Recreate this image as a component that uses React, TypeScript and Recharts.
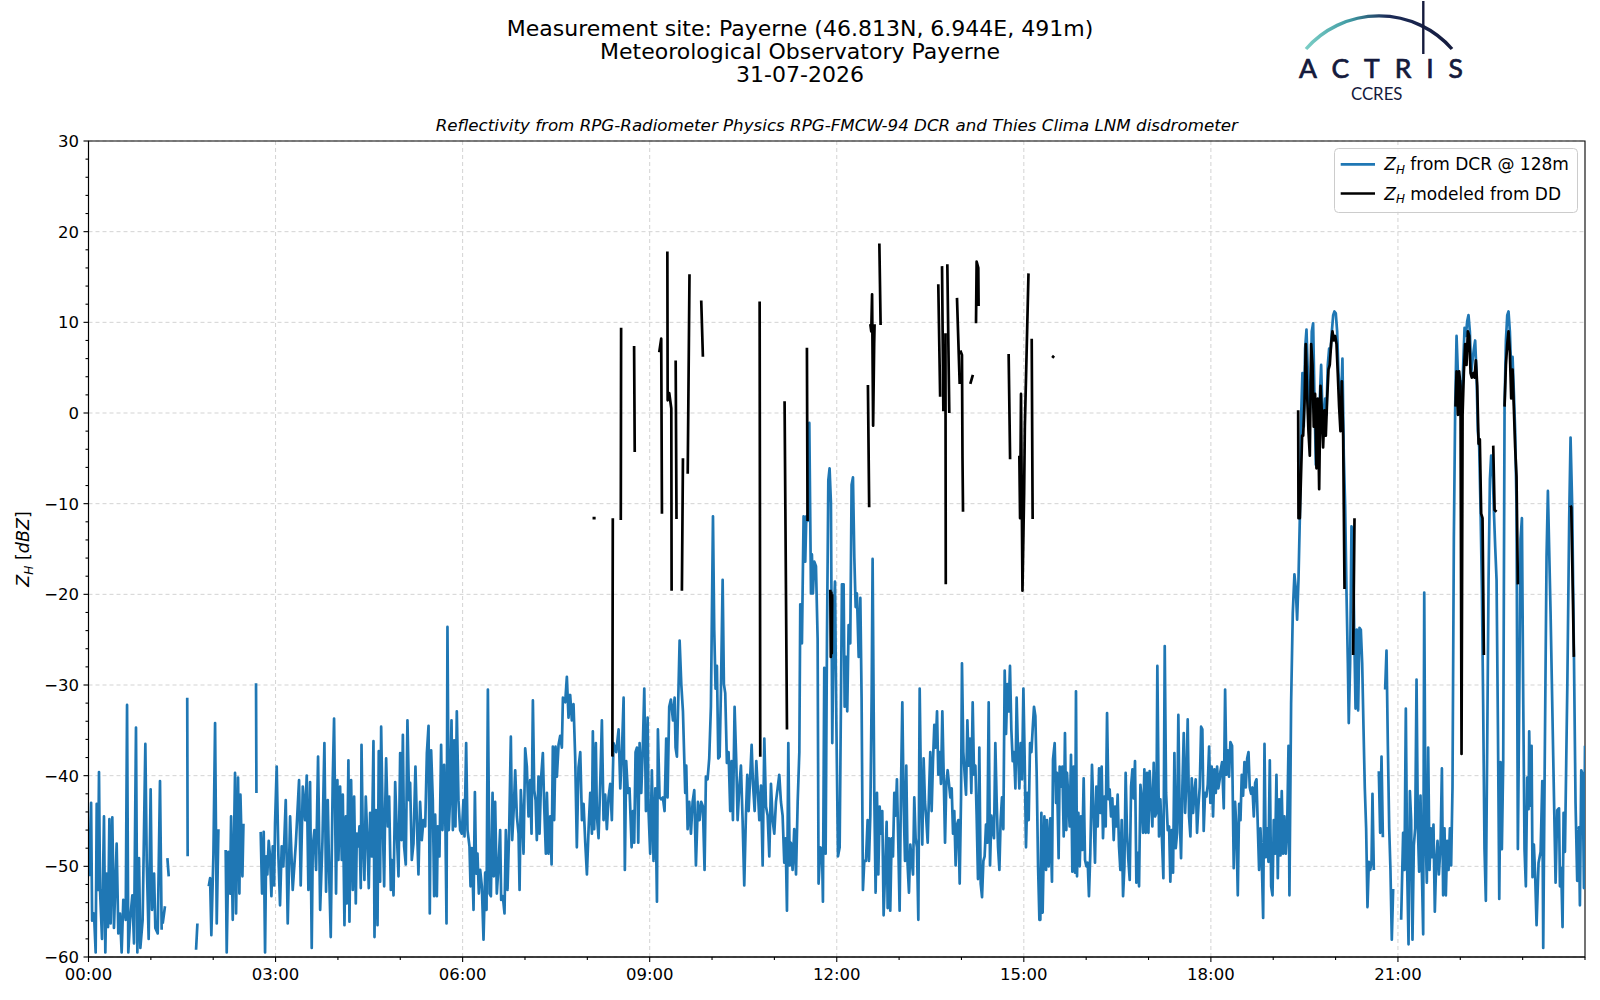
import { LineChart, Line, XAxis, YAxis, CartesianGrid, ReferenceArea } from 'recharts';

type Pt = [number, number | null];

// time in minutes after 00:00, Z_H in dBZ, null = gap in the record
const dcrNight: Pt[] = [
  [0.5, -51.1], [2.5, -43], [3.5, -56], [5.3, -55.2], [6.9, -59.5], [7.9, -43.1], [9.1, -52.6], [10.1, -39.6],
  [11.1, -52.6], [13, -58], [14.9, -44.5], [16.2, -59.5], [17.5, -50.8], [18.8, -56.7], [20.1, -44.8], [21.3, -56.3],
  [22.9, -44.6], [24.5, -56.8], [27.1, -47.5], [28.7, -57.4], [30.3, -55.2], [31.9, -59.5], [33.5, -53.7], [35.8, -55.9],
  [37.1, -32.2], [38.3, -59.5], [40, -55.9], [42.2, -53.2], [43.8, -58.5], [45.7, -34.7], [47, -59.5], [48.6, -49.1],
  [49.9, -59], [52.1, -55.9], [54.7, -36.5], [56, -49.3], [57.9, -58], [59.8, -41.5], [61.1, -54.8], [63.1, -50.8],
  [64.3, -56.8], [66.6, -57.4], [68.8, -40.6], [70.4, -57], [70.9, null], [71.4, -56.3], [73.6, -54.4], [74.8, null],
  [75.9, -49.1], [77.2, -51.1], [86, null], [95, -31.4], [95.4, -48.9], [100, null], [103.5, -59.2], [104.8, -56.3],
  [110, null], [115.7, -52.2], [117, -51.3], [118.2, -57.6], [120.2, -48.7], [121.8, -34.2], [123.4, -56.3], [125, -45.9],
  [128, null], [132, -48.2], [133, -59.5], [134.6, -48.4], [136.2, -53], [137.2, -44.5], [138.8, -55.9], [141, -39.7],
  [142, -55.2], [143.9, -40.2], [145.2, -53], [146.2, -42.1], [148.1, -51.1], [149.1, -45.3], [155, null], [161.2, -29.8],
  [161.6, -41.9], [163, null], [165.7, -46.2], [167, -53], [168.6, -46.2], [169.9, -59.5], [170.9, -48.9], [172.1, -50.9],
  [173.4, -47.2], [174.7, -48.9], [176, -53.3], [177.3, -47.8], [178.6, -52.1], [179.5, -45.3], [181.1, -39], [182.7, -48.7],
  [184.3, -54.3], [185.9, -47.8], [187.5, -50], [189.8, -42.7], [191.7, -56.3], [194, -44.5], [196.5, -52.6], [199.5, -47.5],
  [202.6, -40.5], [204.2, -52.1], [206.2, -41.2], [208.4, -44.9], [210, -40], [211.6, -52.6], [213.2, -40.7], [214.8, -59],
  [215.8, -47.8], [217.4, -46], [219, -50.4], [220.9, -37.9], [222.9, -54.8], [225.1, -47.3], [227, -36.4], [228.6, -52.8],
  [230.2, -42.7], [231.8, -51.9], [233.1, -57.8], [235, -40.5], [236.3, -33.7], [238.2, -53], [239.5, -40.5], [240.5, -49.3],
];

const dcrDawn: Pt[] = [
  [242.1, -41.2], [243.7, -49.3], [244.7, -42.1], [246.3, -56.5], [247.6, -44.5], [248.5, -54.1], [250.1, -38.3], [251.1, -56.1],
  [252.7, -40.5], [254.3, -52.6], [255.6, -42.3], [257.2, -54.1], [258.2, -46.4], [259.8, -47.8], [260.7, -45.6], [262, -52.4],
  [262.7, -36.6], [263.9, -46.4], [265.5, -51.5], [266.8, -42.3], [268.4, -47.3], [269.7, -52.4], [271, -44.1], [272.6, -48.9],
  [274.2, -36.2], [275.2, -57.8], [276.5, -43.8], [278.1, -56.5], [279.3, -37.3], [280.6, -51.7], [281.6, -34.6], [282.9, -43.8],
  [284.5, -52.2], [285.4, -44.1], [286.4, -38.1], [288, -45.6], [289.3, -42.3], [290.9, -52.6], [291.9, -49.3], [293.5, -53.2],
  [295.1, -40.7], [296.7, -46.4], [298.3, -51.1], [299.9, -37.5], [301.2, -47.1], [302.5, -35.5], [303.7, -47.8], [305.3, -49.8],
  [306.9, -33.9], [308.5, -42.7], [309.5, -40.8], [311.1, -49.3], [312.7, -47.5], [314.6, -39], [316.2, -46], [317.5, -50.9],
  [319.1, -42.9], [320.7, -47.1], [322.3, -44.9], [324, -45.6], [325.6, -37.5], [327.2, -34.5], [328.4, -55.2], [329.7, -37.2],
  [331.3, -42.7], [332.6, -53.3], [333.6, -44.3], [335.2, -53.3], [336.1, -45.6], [337.7, -48.9], [339.3, -36.6], [340.6, -46],
  [342.2, -38.8], [343.5, -46], [344.5, -56.3], [345.4, -23.6], [346.7, -46], [348, -42.3], [349.3, -33.9], [350.6, -46],
  [351.9, -36.1], [353.1, -45.6], [354.4, -32.9], [356, -42.7], [357.6, -46], [359.2, -46.4], [360.8, -42.7], [361.8, -46.7],
  [363.4, -36.4], [364.7, -46], [366.6, -47.8], [367.6, -52.2], [368.9, -48], [370.5, -54.8], [371.8, -41.8], [373, -50.8],
  [374.3, -48.6], [375.6, -53], [376.9, -50.4], [378.5, -52.2], [380.1, -58.1], [381.7, -50.7], [383, -54.8], [384.3, -30.5],
  [385.9, -53], [387.2, -53.3], [388.8, -41.9], [390, -51.1], [391.3, -42.9], [392.9, -53], [394.5, -50], [396.1, -46],
  [397.1, -53.7], [398.7, -53.3], [400.3, -55.2], [401.6, -46], [403.2, -52.6], [404.8, -46], [406.4, -35.7], [407.7, -47.1],
  [409.3, -43.4], [410.6, -39.4], [412.2, -44.5], [413.8, -46.4], [414.8, -52.6], [416, -41.6], [417.3, -44.5], [418.6, -48.6],
  [420.2, -37], [421.8, -39], [423.4, -44.5], [425, -40.5], [426.3, -46.4], [427.6, -31.7], [428.9, -41.6], [430.2, -42.7],
  [431.4, -47.1], [433, -40.1], [434, -46.4], [435.6, -40.1], [437.2, -37.5], [438.5, -43.4], [440.1, -48.6], [441.1, -41.9],
  [442.7, -48.6], [444.3, -44.5], [445.6, -49.8], [446.8, -36.8], [448.1, -44.9], [449.4, -36.8], [450.7, -40.1], [452.3, -36.6],
];

const dcrMorning: Pt[] = [
  [453.9, -35.6], [455.5, -36.9], [456.5, -31.4], [458.7, -31.9], [460.3, -29.1], [461.9, -33.6], [463.5, -31.1], [465.1, -33.9],
  [466.7, -32.1], [468.3, -37.9], [469.9, -47.9], [471.5, -39.1], [473.2, -37.4], [474.8, -44.9], [476.4, -43.1], [478, -47.4],
  [479.6, -50.9], [481.2, -45.9], [482.8, -41.9], [484.4, -46.4], [485.3, -35.1], [486.6, -45.9], [488.2, -36.4], [489.2, -44.4],
  [490.8, -46.9], [492.4, -40.9], [494, -33.9], [495.6, -44.9], [497.2, -42.1], [498.8, -45.9], [500.4, -42.4], [502, -40.9],
  [503.6, -44.9], [505.2, -36.4], [507.8, -37.4], [510.1, -34.9], [511.7, -41.4], [513.3, -37.4], [514.9, -31.4], [516.1, -50.4],
  [517.4, -38.4], [519, -41.9], [520.6, -41.4], [522.6, -47.9], [523.9, -43.9], [525.1, -47.4], [526.4, -37.4], [527.7, -36.9],
  [529, -47.4], [530.3, -36.4], [531.9, -41.9], [533.5, -36.4], [534.8, -30.4], [536.4, -43.9], [538, -33.6], [538.9, -43.9],
  [540.5, -48.6], [542.1, -39.4], [543.7, -49.4], [545.4, -41.4], [547, -53.9], [547.9, -34.9], [549.5, -42.4], [551.1, -42.6],
  [552.7, -42.4], [554.3, -43.9], [555.9, -35.9], [557.2, -42.4], [558.8, -32.4], [560.4, -31.6], [562.4, -33.9], [564, -31.4],
  [564.9, -36.9], [566.2, -37.9], [568.8, -25.1], [570.4, -29.9], [572, -32.9], [574.2, -41.9], [575.2, -38.9], [576.5, -45.9],
  [578.1, -42.9], [579.7, -46.4], [581.3, -42.9], [582.9, -41.6], [584.5, -49.9], [586.4, -42.9], [588, -44.9], [589.6, -42.9],
  [591.2, -43.4], [592.8, -50.4], [594.1, -40.1], [595.7, -40.4], [597.3, -38.1], [598.9, -32.4], [600.9, -11.4], [602.1, -23.9],
  [603.4, -30.4], [604.7, -27.9], [606, -38.1], [607.3, -37.9], [608.6, -30.4], [610.2, -18.4], [611.4, -29.9], [612.7, -30.9],
  [614.3, -38.6], [615.9, -37.4], [617.5, -43.9], [618.8, -38.4], [620.1, -44.9], [621.7, -32.4], [623.3, -38.4], [624.6, -44.9],
  [626.2, -41.4], [627.8, -38.9], [629.4, -44.9], [631, -52.1], [632.6, -44.4], [633.9, -39.9], [635.2, -43.9], [636.8, -39.9],
  [638.1, -36.6], [639.4, -40.9], [641, -43.9], [642.6, -38.4], [644.2, -41.9], [645.5, -44.9], [647.1, -41.1], [648.7, -49.9],
  [650.3, -35.9], [651.9, -43.4], [653.5, -44.4], [655.1, -48.9], [656.7, -40.9], [658.3, -44.9], [659.9, -46.4], [661.5, -42.9],
  [663.1, -41.4], [664.7, -39.9], [666.3, -42.9], [667.9, -44.4], [669.5, -49.6], [670.8, -46.9], [672.1, -54.9], [673.4, -36.4],
  [674.7, -49.9], [675.9, -47.4], [677.5, -50.4], [679.1, -45.9], [680.8, -50.9], [682.4, -42.9], [684, -37.4],
];

const dcrMidday: Pt[] = [
  [684.9, -21.1], [686.5, -25.4], [688.1, -11.4], [689.7, -16.4], [690.7, -11.4], [692, -11.9], [693.6, -1.1], [695.2, -19.9],
  [696.1, -15.6], [697.1, -19.9], [698.4, -16.4], [700, -16.9], [701.6, -24.9], [702.5, -51.9], [704.2, -47.9], [705.8, -48.1],
  [706.7, -53.9], [708, -28.1], [709.3, -48.6], [710.6, -24.9], [711.9, -7.4], [713.1, -6.1], [714.4, -9.9], [715.7, -36.4],
  [717, -22.9], [718.3, -18.6], [719.6, -33.9], [721.2, -48.9], [722.8, -47.9], [724, -32.4], [725, -18.9], [726.6, -18.9],
  [727.6, -32.4], [728.9, -26.9], [730.1, -32.9], [731.4, -23.4], [733, -25.4], [734.3, -7.9], [735.6, -7.1], [736.9, -15.9],
  [738.2, -21.4], [739.4, -19.9], [741.1, -26.9], [742.7, -20.4], [743.9, -31.4], [745.2, -52.6], [746.5, -49.4], [748.1, -49.4],
  [749.7, -44.9], [751, -49.4], [752.3, -44.4], [753.6, -30.9], [754.5, -16.1], [756.1, -41.9], [757.4, -52.9], [758.7, -41.9],
  [760, -50.9], [761.3, -43.4], [762.6, -46.4], [763.8, -43.9], [765.1, -55.4], [766.7, -49.9], [768, -45.1], [769, -54.6],
  [770.2, -46.9], [771.5, -54.9], [772.8, -46.9], [774.1, -48.9], [775.4, -41.9], [776.7, -44.4], [777.9, -40.4], [779.2, -47.4],
  [780.5, -54.9], [781.8, -41.4], [783.1, -31.9], [784.4, -43.4], [785.7, -49.4], [786.9, -38.9], [788.2, -49.9], [789.5, -52.9],
  [790.8, -47.6], [792.1, -49.4], [793.4, -50.9], [794.6, -42.4], [795.9, -46.9], [797.2, -47.9], [798.5, -55.9], [799.8, -30.4],
  [801.1, -41.9], [802.3, -47.6], [803.6, -38.1], [804.9, -42.9], [806.2, -44.9], [807.5, -47.4], [808.8, -41.9], [810, -37.4],
  [811.3, -43.9], [812.6, -38.4], [813.9, -34.4], [815.2, -36.9], [816.5, -32.9], [817.7, -39.9], [819, -37.4], [820.3, -40.9],
  [821.6, -32.9], [822.9, -39.9], [824.2, -47.4], [825.4, -40.9], [826.7, -39.4], [828, -40.9], [829.3, -42.4], [830.6, -41.4],
  [831.9, -46.4], [833.1, -43.9], [834.4, -49.9], [835.7, -45.4], [837, -44.9], [838.3, -51.9], [839.6, -42.4], [840.5, -27.6],
  [841.8, -37.4], [843.1, -39.9], [844.4, -42.1], [845.7, -33.9], [846.9, -38.9], [848.2, -35.9], [849.5, -41.9], [850.8, -31.9],
  [852.1, -39.9], [853.4, -38.9], [854.6, -44.4], [855.9, -51.4], [857.2, -36.9], [858.5, -51.9], [859.8, -53.4], [861.1, -49.4],
  [862.3, -48.9], [863.6, -45.4], [864.9, -47.4], [866.2, -31.9], [867.5, -49.9], [868.8, -44.4], [870, -45.9], [871.3, -46.9],
  [872.6, -36.4], [873.9, -42.9], [875.2, -47.9], [876.5, -50.4], [877.7, -44.9], [879, -42.4], [880.3, -45.9], [881.6, -28.4],
  [882.9, -35.4], [884.2, -29.9], [885.4, -32.9], [886.7, -27.9], [888, -34.9], [889.3, -38.4], [890.6, -37.4], [891.9, -41.4],
  [893.1, -31.4], [894.4, -37.4], [895.7, -41.4], [897, -36.4], [898.3, -40.4], [899.6, -30.4], [900.8, -37.9], [902.1, -47.9],
  [903.4, -41.9], [904.7, -44.9], [906, -36.4], [907.3, -37.4], [908.5, -34.9], [909.8, -32.4], [911.1, -33.4], [912.4, -39.9],
  [913.7, -49.9], [915, -55.9],
];

const dcrAfternoon: Pt[] = [
  [915.9, -55.9], [916.9, -44.1], [918.1, -55.1], [919.8, -44.5], [921.4, -50.4], [922.3, -44.9], [923.9, -50], [925.5, -44.7],
  [927.1, -51.7], [928.1, -38.2], [929.7, -36.4], [931, -43], [931.9, -39.7], [933.5, -49.1], [934.5, -39], [935.8, -41.2],
  [937.1, -39], [938.4, -46.7], [939.6, -35.3], [940.9, -46], [941.6, -39.7], [942.9, -42.6], [944.1, -45.6], [945.4, -37.7],
  [946.7, -50.6], [948, -39], [949.3, -50.7], [950.2, -30.7], [951.2, -51.1], [952.5, -44.1], [953.8, -50], [955, -44.5],
  [956.3, -48.2], [957.6, -40.3], [958.9, -49.3], [960.2, -50], [961.5, -49.6], [962.7, -53.3], [964, -48.5], [965.6, -38.8],
  [967.2, -44.5], [968.5, -49.6], [969.8, -41.2], [971.1, -45.6], [972.4, -39.2], [973.7, -44.1], [974.9, -39], [976.2, -46.9],
  [977.5, -42.3], [978.8, -45.6], [980.1, -33.1], [981.4, -42.6], [982.6, -41.5], [983.9, -44.5], [985.2, -42.5], [986.5, -47.1],
  [987.8, -43.4], [989.1, -45.6], [990.3, -42.1], [991.6, -47.8], [992.9, -50.4], [994.2, -44.9], [995.5, -53.3], [996.8, -50],
  [998, -39.7], [999.3, -46.3], [1000.6, -49.3], [1001.9, -51.5], [1003.2, -41.2], [1004.5, -39.3], [1005.7, -42.5], [1007, -38.4],
  [1008.3, -51.8], [1009.6, -48.5], [1010.9, -52.2], [1012.2, -41], [1013.4, -42.6], [1014.7, -46.3], [1016, -39.3], [1017.3, -46.3],
  [1018.6, -39.7], [1019.9, -46.3], [1021.1, -39.5], [1022.4, -42.6], [1023.7, -45.6], [1025, -38.6], [1026.3, -44.5], [1027.6, -44.1],
  [1028.5, -27.9], [1030.1, -46.7], [1031.4, -42.6], [1032.7, -46.3], [1034.3, -51.3], [1035.6, -25.7], [1036.9, -41.9], [1038.5, -46],
  [1039.8, -45.6], [1041, -51.7], [1042.3, -46], [1043.6, -50.7], [1044.9, -37.5], [1046.2, -48], [1047.5, -46.3], [1048.7, -33.3],
  [1050, -44.5], [1051.3, -49.1], [1052.6, -41.2], [1053.9, -35.3], [1055.2, -44.1], [1056.4, -40.8], [1057.7, -33.8], [1059, -44.5],
  [1060.3, -46.7], [1061.6, -40.3], [1062.9, -44.1], [1064.1, -41.9], [1065.4, -40.4], [1066.7, -46.3], [1068, -43.4], [1069.3, -41.2],
  [1070.6, -34.6], [1071.8, -34.9], [1073.1, -46.1], [1074.4, -41.9], [1075.7, -42.3], [1077, -41], [1078.3, -36.8], [1079.5, -43],
  [1080.8, -39], [1082.1, -44.5], [1083.4, -39.3], [1084.7, -41.9], [1086, -39], [1087.2, -41.4], [1088.5, -40.4],
];

const dcrEvening: Pt[] = [
  [1089.2, -39.5], [1090.8, -38.5], [1092.4, -43.6], [1093.7, -30.5], [1095, -39.9], [1096.3, -37.2], [1097.5, -40.1], [1098.8, -36.3],
  [1100.4, -36.7], [1102, -50.2], [1103.3, -42.9], [1104.6, -45.8], [1105.9, -53.2], [1107.2, -43.1], [1108.5, -44.9], [1109.7, -39.9],
  [1111, -42.2], [1112.3, -38.5], [1113.6, -41.3], [1114.9, -38.1], [1116.2, -37.4], [1117.4, -41.3], [1118.7, -42], [1120, -41.3],
  [1121.3, -44.5], [1122.6, -40.8], [1123.9, -40.4], [1125.1, -45.4], [1126.4, -50.4], [1127.7, -45.8], [1129, -49.5], [1130.3, -55.7],
  [1131.6, -36.5], [1132.8, -49], [1134.1, -45.8], [1135.4, -49.5], [1136.7, -38.3], [1138, -52.2], [1139.3, -53.2], [1140.5, -44.9],
  [1141.8, -48.6], [1143.1, -39.9], [1144.4, -51.3], [1145.7, -42.6], [1147, -48.8], [1148.2, -41.7], [1149.5, -48.6], [1150.8, -44.5],
  [1152.1, -48.6], [1153.4, -45.8], [1154.7, -36.7], [1155.6, -53.2], [1157.2, -32.1], [1158.8, -22.1], [1160.4, -17.8], [1161.7, -19.4],
  [1163, -22.8], [1164.3, -18.4], [1165.6, -11.6], [1166.9, -0.2], [1168.1, 4.4], [1169.4, -1.5], [1170.7, 7.1], [1172, 9.2],
  [1173.3, 4.4], [1174.6, -1.5], [1175.8, 1.6], [1177.1, 9], [1178.4, 9.9], [1179.7, 1.6], [1181, -5.7], [1182.3, -0.2],
  [1183.5, -3.8], [1184.8, 1.6], [1186.1, 5.3], [1187.4, -0.2], [1188.7, -1.5], [1190, 1.6], [1191.2, -0.2], [1192.5, 5.3],
  [1193.8, 7.1], [1195.1, 6.7], [1196.4, 9], [1197.7, 10.8], [1198.9, 11.2], [1200.2, 11], [1201.5, 9], [1202.8, 4.4],
  [1204.1, 2.1], [1205.4, 1.6], [1206.6, 6], [1207.9, -4.7], [1209.2, -10.2], [1210.5, -19.8], [1211.8, -27.6], [1212.7, -34.2],
  [1214, -27.6], [1215.3, -12.5], [1216.6, -13], [1217.9, -23.9], [1219.2, -32.6], [1220.4, -23.9], [1221.7, -32.8], [1223, -23.7],
  [1224.3, -23.9], [1225.6, -27.6], [1226.9, -34.9], [1228.1, -41.3], [1229.4, -45.8], [1230.7, -54.5], [1232, -49.5], [1233.3, -50.4],
  [1234.6, -49.5], [1235.5, -42], [1236.8, -50.4], [1239, null], [1241.6, -39.5], [1242.9, -46.3], [1244.2, -37.9], [1245.5, -46.8],
  [1246.5, null], [1247.7, -30.5], [1249, -26.2], [1250.3, -36.7], [1251.6, -45.8], [1252.8, -50.4], [1254.1, -58.1], [1255.4, -52.5],
  [1260, null], [1263.1, -55.9], [1265, -46.3], [1266.3, -50.4], [1267.6, -32.6], [1268.9, -50.4], [1270.2, -58.6], [1271.5, -41.7],
  [1272.7, -44.9], [1274, -58.1], [1275.3, -47.7], [1276.6, -45.8], [1277.9, -29.4], [1279.2, -45.8], [1280.4, -50.6], [1281.7, -42.2],
  [1283, -50.4], [1284.3, -57.5], [1285.3, -19.8], [1286.5, -45.8], [1287.8, -51.8], [1289.1, -36.9], [1290.4, -50.4], [1291.7, -45.8],
  [1293, -49], [1294.2, -45.4], [1295.5, -55], [1296.8, -49.5], [1298.1, -47.2], [1299.4, -50.9], [1301, -47.7], [1302.3, -39.2],
  [1303.5, -53.2], [1304.8, -45.8], [1306.1, -53.2], [1307.4, -47.2], [1308.7, -50.4], [1310, -45.8], [1311.2, -49.9], [1312.5, -41.3],
  [1313.8, -13.9], [1315.1, 0.7], [1316.4, 8.5], [1317.7, 4.4], [1318.9, -0.2], [1320.2, 3.5], [1321.5, 0.3], [1322.8, 5.3],
  [1324.1, 9.4], [1325.4, 8.5], [1326.6, 10.1], [1327.9, 10.8], [1329.2, 9], [1330.5, 4.4], [1331.8, 5.8], [1333.1, 7.1],
  [1334.3, 8], [1335.6, 4.4], [1336.9, -2], [1338.2, -3.8], [1339.5, -10.7], [1340.8, -19.4], [1342, -32.1], [1343.3, -48.1],
  [1344.6, -53.8], [1345.9, -36.7], [1347.2, -18.4], [1348.5, -7.3], [1349.7, -4.7], [1351, -5.7], [1352.3, -10.7], [1353.6, -14.8],
  [1354.9, -18.4], [1356.2, -34.4], [1357.5, -53.6], [1358.7, -38.5], [1360, -48.1], [1361.3, -38.5], [1362.6, 0.7], [1363.9, 8],
  [1365.2, 10.8], [1366.4, 11.2], [1367.7, 9], [1369, 4.4], [1370.3, 6.2], [1371.6, 2.1], [1372.8, -2], [1374.1, -10.2],
  [1375.4, -48.1], [1376.7, -32.1], [1378, -13.9], [1379.3, -11.6], [1380.6, -32.1], [1381.8, -48.1], [1383.1, -52.2], [1384.4, -40.2],
  [1385.7, -43.7], [1386.3, -35.1], [1387.6, -43.3], [1388.6, -36.7], [1389.5, -51.2], [1390.8, -47.6], [1392.1, -51.2], [1393.4, -56.5],
  [1395.3, -49.6], [1397.3, -48.4], [1398.9, -40.6], [1399.8, -59], [1401.1, -40.6], [1403, -15.9], [1404.3, -8.6], [1406.9, -22.2],
  [1409.4, -37.8], [1411.7, -51.8], [1413.3, -43.8], [1415, -43.6], [1415.9, -52.2], [1417.1, -50.2], [1418.4, -56.7], [1419.4, -44.1],
  [1420.7, -48.4], [1423, -30], [1424.8, -11.6], [1426.1, -2.7], [1427.7, -10.4], [1429.3, -26.1], [1430.9, -43], [1432.5, -51.6],
  [1434.1, -45.7], [1435.1, -54.3], [1436.4, -39.4], [1437.7, -39.8], [1439, -52.4], [1440, -36.7],
];

// Z_H modeled from the disdrometer drop size distribution
const ddModel: Pt[] = [
  [485, -11.6], [488, -11.6], [488.5, null], [504.1, -37.9], [504.5, -11.6], [508, null], [512.2, -11.8], [512.5, 9.4],
  [518, null], [525, 7.4], [525.6, -4.3], [535, null], [549.2, 6.7], [551.1, 8.2], [551.8, -11.1], [554, null],
  [557, 17.8], [557.3, 1.4], [558.8, 2.2], [560.8, 0.5], [561.1, -19.6], [563, null], [565, 5.8], [565.8, -11.7],
  [568, null], [571, -19.6], [572, -5], [574, null], [576.6, -6.7], [578.3, 15.3], [584, null], [589.6, 12.4],
  [591.2, 6.2], [600, null], [645.8, 12.3], [646.4, -37.9], [655, null], [669.8, 1.3], [672.1, -34.9], [680, null],
  [691.3, 7.2], [691.9, -11.9], [700, null], [713.8, -19.5], [714.3, -26.9], [714.8, -19.8], [715.2, -26.5], [715.6, -20],
  [730, null], [750, 3.1], [751.2, -10.4], [751.8, null], [752.3, 9.8], [753.2, 9], [754, 13.1], [755, -1.4],
  [756, 7.6], [756.4, 9.8], [758, null], [761, 18.7], [762.2, 9.7], [780, null], [817.7, 14.2], [819.5, 1.8],
  [820.5, null], [821.3, 16.2], [822.6, 0.2], [823.5, null], [824.6, 8.8], [824.9, -18.9], [825.6, null], [826.4, 16.4],
  [828.3, 0], [832, null], [835.7, 12.7], [838.3, 3.2], [838.6, null], [838.9, 6.9], [840.5, 6.4], [841, -5],
  [841.5, -10.9], [845, null], [848.5, 3.2], [851, 4.2], [852.5, null], [854, 9.9], [854.6, 16.7], [856.2, 16],
  [856.5, 11.8], [870, null], [885.4, 6.5], [886.8, -5.1], [890, null], [895.7, -4.7], [896.4, -11.6], [897.3, 2.1],
  [898.7, -19.6], [900.3, -8.8], [901, -1.5], [904.5, 15.4], [906, null], [907.6, 8.2], [908.5, -11.7], [915, null],
  [927.2, 6.3], [929.2, 6.1], [1000, null], [1164, 0.3], [1164.3, -11.6], [1165.6, -11.6], [1167.8, -2.5], [1168.8, -2.5],
  [1170.1, 1.2], [1171.3, 7.6], [1172.6, 2.1], [1173.9, -2], [1175.2, -4.7], [1176.5, 7.6], [1177.8, 5.3], [1179, -1.5],
  [1180.3, 2.1], [1181.6, -6.1], [1182.9, 1.6], [1184.2, -8.4], [1185.5, 3], [1186.7, 0.3], [1188, -3.8], [1189.3, 0.3],
  [1190.6, -2.5], [1191.9, 1.6], [1193.2, 4.8], [1194.4, 5.3], [1195.7, 7.6], [1197, 9], [1198.3, 8], [1199.6, 8.5],
  [1200.9, 7.6], [1202.1, 4.4], [1203.4, 0.7], [1204.7, -2], [1206, 3.5], [1207.3, -2.5], [1208.6, -19.4], [1212, null],
  [1216.9, -26.7], [1218.2, -11.6], [1300, null], [1315.4, 0.7], [1316.4, 4.6], [1317.7, -0.2], [1318.9, 4.6], [1320.2, 3],
  [1321.2, -37.6], [1322.2, -0.2], [1323.4, 4.4], [1324.7, 7.6], [1326, 5.3], [1327.3, 9], [1328.6, 8.5], [1329.9, 4.4],
  [1331.1, 3.9], [1332.4, 4.4], [1333.7, 3.9], [1335, 5.8], [1336.3, 3], [1337.6, -3.4], [1338.8, -2.9], [1340.1, -11.1],
  [1341.4, -11.6], [1342.7, -26.7], [1348, null], [1351.7, -3.6], [1353, -10.7], [1354.9, -10.9], [1358, null], [1362.6, 0.7],
  [1363.9, 5.3], [1365.2, 7.6], [1366.4, 9], [1367.7, 6.7], [1369, 1.6], [1370.3, 4.8], [1371.6, 0.3], [1372.8, -3.8],
  [1374.1, -7], [1375.4, -18.9], [1400, null], [1426.1, -10.2], [1426.8, -10.4], [1428.3, -20], [1429.3, -26.9],
];

const xMinorTicks = [0, 60, 120, 180, 240, 300, 360, 420, 480, 540, 600, 660, 720, 780, 840, 900, 960, 1020, 1080, 1140, 1200, 1260, 1320, 1380, 1440];
const xMajorTicks = [0, 180, 360, 540, 720, 900, 1080, 1260];
const yMinorTicks = [-60, -58, -56, -54, -52, -50, -48, -46, -44, -42, -40, -38, -36, -34, -32, -30, -28, -26, -24, -22, -20, -18, -16, -14, -12, -10, -8, -6, -4, -2, 0, 2, 4, 6, 8, 10, 12, 14, 16, 18, 20, 22, 24, 26, 28, 30];
const yMajorTicks = [-60, -50, -40, -30, -20, -10, 0, 10, 20, 30];

const FONT = '"DejaVu Sans", sans-serif';
const NAVY = '#141a3c';
const LW = 2.7;

const toRows = (pts: Pt[]) => pts.map(([t, v]) => ({ t, v }));
const dcrRows = toRows([...dcrNight, ...dcrDawn, ...dcrMorning, ...dcrMidday, ...dcrAfternoon, ...dcrEvening]);
const ddRows = toRows(ddModel);

const hhmm = (m: number) =>
  `${String(Math.floor(m / 60)).padStart(2, '0')}:${String(m % 60).padStart(2, '0')}`;
const fmtY = (v: number) => (v < 0 ? `\u2212${-v}` : `${v}`);

function XTick(props: any) {
  const { x, y, payload } = props;
  const major = xMajorTicks.includes(payload.value);
  return (
    <g>
      <line x1={x} x2={x} y1={y} y2={y + (major ? 5 : 3)} stroke="#000" strokeWidth={1.1} />
      {major && (
        <text x={x} y={y + 23} textAnchor="middle" fontSize={16.5} fontFamily={FONT} fill="#000">
          {hhmm(payload.value)}
        </text>
      )}
    </g>
  );
}

function YTick(props: any) {
  const { x, y, payload } = props;
  const major = yMajorTicks.includes(payload.value);
  return (
    <g>
      <line x1={x - (major ? 5 : 3)} x2={x} y1={y} y2={y} stroke="#000" strokeWidth={1.1} />
      {major && (
        <text x={x - 9.5} y={y + 6} textAnchor="end" fontSize={16.5} fontFamily={FONT} fill="#000">
          {fmtY(payload.value)}
        </text>
      )}
    </g>
  );
}

function Overlay() {
  return (
    <svg
      width={1600}
      height={1000}
      style={{ position: 'absolute', left: 0, top: 0, pointerEvents: 'none' }}
      fontFamily={FONT}
    >
      <defs>
        <linearGradient id="arcGrad" x1="1305" y1="0" x2="1455" y2="0" gradientUnits="userSpaceOnUse">
          <stop offset="0" stopColor="#7ccfc6" />
          <stop offset="0.3" stopColor="#3f9aa3" />
          <stop offset="0.55" stopColor="#1c2c58" />
          <stop offset="1" stopColor={NAVY} />
        </linearGradient>
      </defs>

      {/* titles */}
      <text x={800} y={36} textAnchor="middle" fontSize={22}>Measurement site: Payerne (46.813N, 6.944E, 491m)</text>
      <text x={800} y={59} textAnchor="middle" fontSize={22}>Meteorological Observatory Payerne</text>
      <text x={800} y={82} textAnchor="middle" fontSize={22}>31-07-2026</text>
      <text x={836.75} y={131} textAnchor="middle" fontSize={16.7} fontStyle="italic">
        Reflectivity from RPG-Radiometer Physics RPG-FMCW-94 DCR and Thies Clima LNM disdrometer
      </text>

      {/* y label */}
      <text transform="translate(29,549) rotate(-90)" textAnchor="middle" fontSize={17.5}>
        <tspan fontStyle="italic">Z</tspan>
        <tspan fontStyle="italic" fontSize={12.2} dy={4}>H</tspan>
        <tspan dy={-4}> [</tspan>
        <tspan fontStyle="italic">dBZ</tspan>
        <tspan>]</tspan>
      </text>

      {/* legend */}
      <rect x={1334.5} y={148.5} width={243} height={64} rx={4} fill="#fff" fillOpacity={0.8} stroke="#cccccc" strokeWidth={1} />
      <line x1={1340.7} x2={1375} y1={164.3} y2={164.3} stroke="#1f77b4" strokeWidth={LW} />
      <text x={1384.3} y={170.3} fontSize={17}>
        <tspan fontStyle="italic">Z</tspan>
        <tspan fontStyle="italic" fontSize={11.9} dy={3.5}>H</tspan>
        <tspan dy={-3.5}> from DCR @ 128m</tspan>
      </text>
      <line x1={1340.7} x2={1375} y1={193.5} y2={193.5} stroke="#000" strokeWidth={LW} />
      <text x={1384.3} y={199.5} fontSize={17}>
        <tspan fontStyle="italic">Z</tspan>
        <tspan fontStyle="italic" fontSize={11.9} dy={3.5}>H</tspan>
        <tspan dy={-3.5}> modeled from DD</tspan>
      </text>

      {/* ACTRIS CCRES logo */}
      <path d="M1306 49 A97 97 0 0 1 1452 49" fill="none" stroke="url(#arcGrad)" strokeWidth={3.4} />
      <line x1={1423.3} x2={1423.3} y1={1} y2={54} stroke={NAVY} strokeWidth={2.4} />
      <text
        x={1299}
        y={77.5}
        fontSize={26.5}
        fontFamily="Lato, sans-serif"
        fill={NAVY}
        stroke={NAVY}
        strokeWidth={0.7}
        textLength={164}
        lengthAdjust="spacing"
      >
        ACTRIS
      </text>
      <text x={1376.7} y={99.5} textAnchor="middle" fontSize={16.8} fontFamily="Lato, sans-serif" fill={NAVY}>
        CCRES
      </text>
    </svg>
  );
}

export default function App() {
  return (
    <div style={{ position: 'absolute', left: 0, top: 0, width: 1600, height: 1000, background: '#fff', fontFamily: FONT }}>
      <LineChart width={1600} height={1000} margin={{ top: 141, right: 15, bottom: 13, left: 28.5 }}>
        <CartesianGrid
          stroke="#d3d3d3"
          strokeDasharray="4 3"
          horizontalValues={yMajorTicks}
          verticalValues={xMajorTicks}
        />
        <XAxis
          dataKey="t"
          type="number"
          domain={[0, 1440]}
          allowDataOverflow
          ticks={xMinorTicks}
          interval={0}
          tick={XTick}
          tickLine={false}
          tickSize={0}
          tickMargin={0}
          height={30}
          axisLine={{ stroke: '#000', strokeWidth: 1.1 }}
        />
        <YAxis
          type="number"
          domain={[-60, 30]}
          allowDataOverflow
          ticks={yMinorTicks}
          interval={0}
          tick={YTick}
          tickLine={false}
          tickSize={0}
          tickMargin={0}
          width={60}
          axisLine={{ stroke: '#000', strokeWidth: 1.1 }}
        />
        <ReferenceArea x1={0} x2={1440} y1={-60} y2={30} fill="none" stroke="#000" strokeWidth={1.1} ifOverflow="visible" />
        <Line
          data={dcrRows}
          dataKey="v"
          stroke="#1f77b4"
          strokeWidth={LW}
          strokeLinejoin="round"
          dot={false}
          activeDot={false}
          connectNulls={false}
          isAnimationActive={false}
        />
        <Line
          data={ddRows}
          dataKey="v"
          stroke="#000"
          strokeWidth={LW}
          strokeLinejoin="round"
          dot={false}
          activeDot={false}
          connectNulls={false}
          isAnimationActive={false}
        />
      </LineChart>
      <Overlay />
    </div>
  );
}
